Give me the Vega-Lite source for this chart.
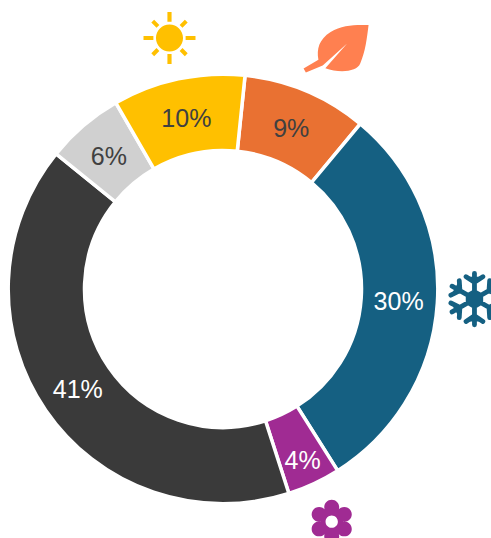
{
"$schema":"https://vega.github.io/schema/vega-lite/v6.json",
"width":446,"height":446,
"autosize":{"type":"none"},
"padding":{"left":0,"top":66,"right":45,"bottom":26},
"background":"white",
"config":{"view":{"stroke":null},"font":"Liberation Sans"},
"datasets":{
"segments":[
{"segment":"Autumn","share":9.4,"order":1},
{"segment":"Winter","share":30.0,"order":2},
{"segment":"Spring","share":4.0,"order":3},
{"segment":"Other dark","share":40.8,"order":4},
{"segment":"Other light","share":5.85,"order":5},
{"segment":"Summer","share":9.95,"order":6}
],
"icons":[
{"icon":"sun","iconX":-0.25,"iconY":1.173},
{"icon":"leaf","iconX":0.526,"iconY":1.124},
{"icon":"snow","iconX":1.175,"iconY":-0.047},
{"icon":"flower","iconX":0.508,"iconY":-1.087}
]},
"layer":[
{"data":{"name":"segments"},
 "mark":{"type":"arc","innerRadius":138.5,"outerRadius":214.8,"stroke":"white","strokeWidth":3.5},
 "encoding":{
  "theta":{"field":"share","type":"quantitative","stack":true,"scale":{"domain":[0,100],"range":[0.103,6.386]}},
  "order":{"field":"order","type":"quantitative"},
  "color":{"field":"segment","type":"nominal","legend":null,"scale":{"domain":["Autumn","Winter","Spring","Other dark","Other light","Summer"],"range":["#E97132","#156082","#A02B93","#3A3A3A","#D0D0D0","#FFC000"]}}
 }},
{"data":{"name":"segments"},
 "transform":[
  {"stack":"share","sort":[{"field":"order","order":"ascending"}],"as":["s0","s1"]},
  {"calculate":"(datum.s0 + datum.s1) / 2","as":"mid"},
  {"calculate":"format(datum.share, '.0f') + '%'","as":"label"},
  {"filter":"datum.segment != 'Spring'"}],
 "mark":{"type":"text","radius":176,"fontSize":25,"font":"Liberation Sans","align":"center","baseline":"middle","dy":2},
 "encoding":{
  "theta":{"field":"mid","type":"quantitative","stack":null,"scale":{"domain":[0,100],"range":[0.103,6.386]}},
  "text":{"field":"label","type":"nominal"},
  "color":{"condition":{"test":"indexof(['Winter','Other dark'],datum.segment)>=0","value":"#FFFFFF"},"value":"#404040"}
 }},
{"data":{"name":"segments"},
 "transform":[
  {"stack":"share","sort":[{"field":"order","order":"ascending"}],"as":["s0","s1"]},
  {"calculate":"(datum.s0 + datum.s1) / 2","as":"mid"},
  {"calculate":"format(datum.share, '.0f') + '%'","as":"label"},
  {"filter":"datum.segment == 'Spring'"}],
 "mark":{"type":"text","radius":188,"fontSize":25,"font":"Liberation Sans","align":"center","baseline":"middle","dy":2,"color":"#FFFFFF"},
 "encoding":{
  "theta":{"field":"mid","type":"quantitative","stack":null,"scale":{"domain":[0,100],"range":[0.103,6.386]}},
  "text":{"field":"label","type":"nominal"}
 }},
{"data":{"name":"icons"},"transform":[{"filter":"datum.icon=='sun'"}],
 "mark":{"type":"point","filled":true,"opacity":1,"color":"#FFC000","size":2704,"clip":false,
  "shape":"M-.52,0A.52,.52 0 1,1 .52,0A.52,.52 0 1,1 -.52,0ZM-.08,-1L.08,-1L.08,-.62L-.08,-.62ZM-.08,1L.08,1L.08,.62L-.08,.62ZM-1,-.08L-1,.08L-.62,.08L-.62,-.08ZM1,-.08L1,.08L.62,.08L.62,-.08ZM.5,-.39L.7,-.59L.59,-.7L.39,-.5ZM-.5,-.39L-.7,-.59L-.59,-.7L-.39,-.5ZM.5,.39L.7,.59L.59,.7L.39,.5ZM-.5,.39L-.7,.59L-.59,.7L-.39,.5Z"},
 "encoding":{"x":{"field":"iconX","type":"quantitative","axis":null,"scale":{"domain":[-1.042,1.042]}},"y":{"field":"iconY","type":"quantitative","axis":null,"scale":{"domain":[-1.042,1.042]}}}},
{"data":{"name":"icons"},"transform":[{"filter":"datum.icon=='leaf'"}],
 "mark":{"type":"point","filled":true,"opacity":1,"color":"#FF8050","size":4356,"clip":false,
  "shape":"M1,-.71C.6,-.72 .2,-.72 -.15,-.5C-.5,-.28 -.58,.02 -.52,.34L-.97,.61L-.9,.73L-.39,.52L.35,-.15L-.31,.6C.1,.75 .65,.72 .75,.45C.9,.1 .95,-.3 1,-.71Z"},
 "encoding":{"x":{"field":"iconX","type":"quantitative","axis":null,"scale":{"domain":[-1.042,1.042]}},"y":{"field":"iconY","type":"quantitative","axis":null,"scale":{"domain":[-1.042,1.042]}}}},
{"data":{"name":"icons"},"transform":[{"filter":"datum.icon=='snow'"}],
 "mark":{"type":"point","filled":true,"opacity":1,"color":"#156082","stroke":"#156082","strokeWidth":4.8,"strokeCap":"round","strokeJoin":"round","size":3136,"clip":false,
  "shape":"M0,-.92L0,.92M.8,-.46L-.8,.46M.8,.46L-.8,-.46M-.3,-.8L0,-.6L.3,-.8M.543,-.66L.52,-.3L.843,-.14M.843,.14L.52,.3L.543,.66M.3,.8L0,.6L-.3,.8M-.543,.66L-.52,.3L-.843,.14M-.843,-.14L-.52,-.3L-.543,-.66M0,-.26L.225,-.13L.225,.13L0,.26L-.225,.13L-.225,-.13Z"},
 "encoding":{"x":{"field":"iconX","type":"quantitative","axis":null,"scale":{"domain":[-1.042,1.042]}},"y":{"field":"iconY","type":"quantitative","axis":null,"scale":{"domain":[-1.042,1.042]}}}},
{"data":{"name":"icons"},"transform":[{"filter":"datum.icon=='flower'"}],
 "mark":{"type":"point","filled":true,"opacity":1,"color":"#A02B93","size":1936,"clip":false,
  "shape":"M-.34,-.66A.34,.34 0 1,1 .34,-.66A.34,.34 0 1,1 -.34,-.66ZM.232,-.33A.34,.34 0 1,1 .912,-.33A.34,.34 0 1,1 .232,-.33ZM.232,.33A.34,.34 0 1,1 .912,.33A.34,.34 0 1,1 .232,.33ZM-.34,.66A.34,.34 0 1,1 .34,.66A.34,.34 0 1,1 -.34,.66ZM-.912,.33A.34,.34 0 1,1 -.232,.33A.34,.34 0 1,1 -.912,.33ZM-.912,-.33A.34,.34 0 1,1 -.232,-.33A.34,.34 0 1,1 -.912,-.33ZM-.5,0A.5,.5 0 1,1 .5,0A.5,.5 0 1,1 -.5,0ZM-.28,0A.28,.28 0 1,0 .28,0A.28,.28 0 1,0 -.28,0Z"},
 "encoding":{"x":{"field":"iconX","type":"quantitative","axis":null,"scale":{"domain":[-1.042,1.042]}},"y":{"field":"iconY","type":"quantitative","axis":null,"scale":{"domain":[-1.042,1.042]}}}}
]
}
